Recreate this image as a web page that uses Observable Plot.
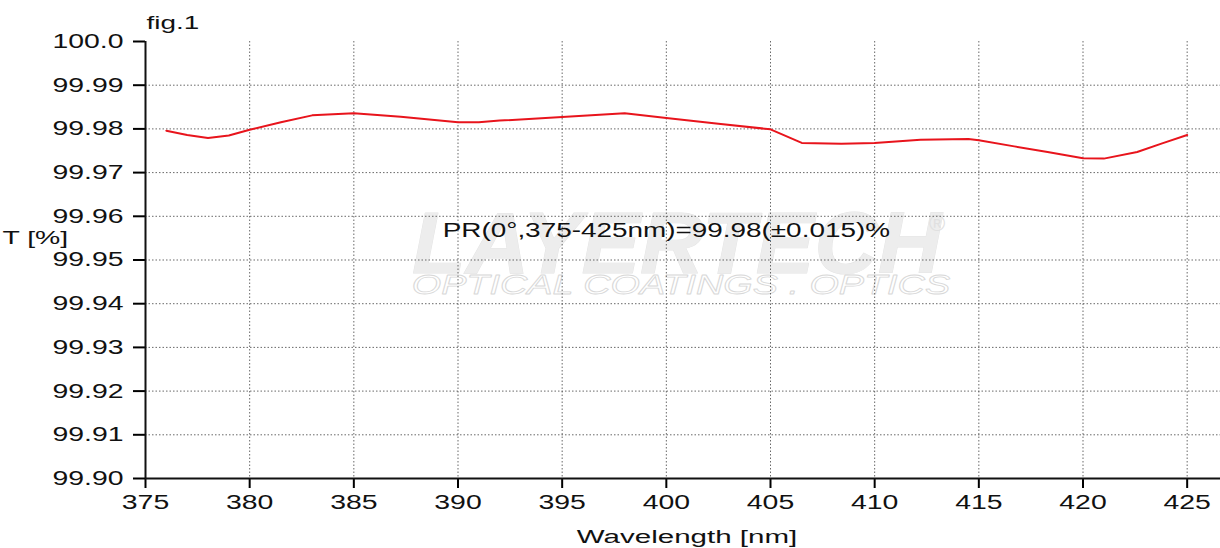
<!DOCTYPE html>
<html>
<head>
<meta charset="utf-8">
<script src="https://cdn.jsdelivr.net/npm/d3@7"></script>
<script src="https://cdn.jsdelivr.net/npm/@observablehq/plot@0.6"></script>
<style>
  html, body { margin: 0; padding: 0; background: #fff; }
  #chart svg { display: block; }
</style>
</head>
<body>
<div id="chart"></div>
<script>
const wavelength = [376, 377, 378, 379, 380, 381.5, 383, 385, 387.25, 390, 391, 392, 395, 398, 400, 402.5, 405, 406.5, 408.4, 410, 412.2, 414.5, 415, 416.7, 418.3, 420, 421, 422.6, 423.8, 425];
const transmission = [99.9796, 99.9786, 99.9779, 99.9785, 99.9798, 99.9815, 99.9831, 99.9836, 99.9828, 99.9815, 99.9815, 99.9819, 99.9827, 99.9836, 99.9825, 99.9812, 99.9799, 99.9768, 99.9766, 99.9768, 99.9775, 99.9777, 99.9774, 99.9760, 99.9747, 99.9733, 99.9732, 99.9747, 99.9767, 99.9786];
const xTicks = [375, 380, 385, 390, 395, 400, 405, 410, 415, 420, 425];
const yTicks = [99.90, 99.91, 99.92, 99.93, 99.94, 99.95, 99.96, 99.97, 99.98, 99.99, 100.0];
const yTickLabels = ["99.90", "99.91", "99.92", "99.93", "99.94", "99.95", "99.96", "99.97", "99.98", "99.99", "100.0"];
const annotation = [{x: 400, y: 99.9568, text: "PR(0°,375-425nm)=99.98(±0.015)%"}];
const watermark = [{x: 400.5, y: 99.9535, text: "LAYERTECH"}];
const watermarkSub = [{x: 400.7, y: 99.9442, text: "OPTICAL COATINGS . OPTICS"}];
const reg = [{x: 413, y: 99.9582, text: "®"}];

const data = wavelength.map((w, i) => ({w, t: transmission[i]}));
const font = "'Liberation Sans', Arial, Helvetica, sans-serif";

const chart = Plot.plot({
  width: 1220,
  height: 548,
  marginLeft: 145,
  marginRight: 0,
  marginTop: 41,
  marginBottom: 70,
  style: {fontFamily: font, background: "#fff", overflow: "visible"},
  x: {domain: [375, 426.6]},
  y: {domain: [99.90, 100.0]},
  marks: [
    Plot.text(watermark, {x: "x", y: "y", text: "text", fontSize: 88, fontWeight: "bold", fontStyle: "italic", fill: "#ededed", stroke: "#e4e4e4", strokeWidth: 1}),
    Plot.text(watermarkSub, {x: "x", y: "y", text: "text", fontSize: 27, fontStyle: "italic", fill: "none", stroke: "#d8d8d8", strokeWidth: 0.8}),
    Plot.text(reg, {x: "x", y: "y", text: "text", fontSize: 22, fill: "#e0e0e0"}),
    Plot.gridX(xTicks.filter(d => d !== 375), {stroke: "#444", strokeOpacity: 0.8, strokeDasharray: "1.5,2", strokeWidth: 1}),
    Plot.gridY(yTicks.filter(d => d !== 99.90 && d !== 100.0), {stroke: "#444", strokeOpacity: 0.8, strokeDasharray: "1.5,2", strokeWidth: 1}),
    Plot.line(data, {x: "w", y: "t", stroke: "#e8141c", strokeWidth: 2}),
    Plot.text(annotation, {x: "x", y: "y", text: "text", fontSize: 19.5, fill: "#111"}),
    Plot.axisX({ticks: xTicks, tickSize: 10, tickPadding: 6, strokeWidth: 2, fontSize: 20, fill: "#111", label: null}),
    Plot.axisY({ticks: yTicks, tickFormat: d => yTickLabels[yTicks.indexOf(d)] ?? d3.format(".2f")(d), tickSize: 12, tickPadding: 10, strokeWidth: 2, fontSize: 20, fill: "#111", label: null}),
    Plot.ruleX([375], {strokeWidth: 2, stroke: "#111"}),
    Plot.ruleY([99.90], {strokeWidth: 2, stroke: "#111"}),
    Plot.text(["Wavelength [nm]"], {frameAnchor: "bottom", dy: 64, dx: 4, fontSize: 18, fill: "#111"}),
    Plot.text(["T [%]"], {frameAnchor: "left", y: [99.9549], dx: -143, textAnchor: "start", fontSize: 17.5, fill: "#111"}),
    Plot.text(["fig.1"], {frameAnchor: "top-left", dx: 1, dy: -25, textAnchor: "start", fontSize: 18, fill: "#111"})
  ]
});
document.getElementById("chart").appendChild(chart);

// horizontal glyph stretch, matching the wide lettering of the reference
const stretchFor = s => {
  if (s === "LAYERTECH" || s === "®") return 1;
  if (s === "OPTICAL COATINGS . OPTICS") return 1.4;
  if (s.startsWith("PR(")) return 1.43;
  if (s === "Wavelength [nm]") return 1.64;
  if (s === "T [%]") return 1.62;
  if (s === "fig.1") return 1.55;
  return 1.42; // tick labels
};
chart.querySelectorAll("text").forEach(t => {
  const s = t.textContent;
  const f = stretchFor(s);
  if (f === 1) return;
  const len = t.getComputedTextLength();
  t.setAttribute("textLength", (len * f).toFixed(1));
  t.setAttribute("lengthAdjust", "spacingAndGlyphs");
});
</script>
</body>
</html>
